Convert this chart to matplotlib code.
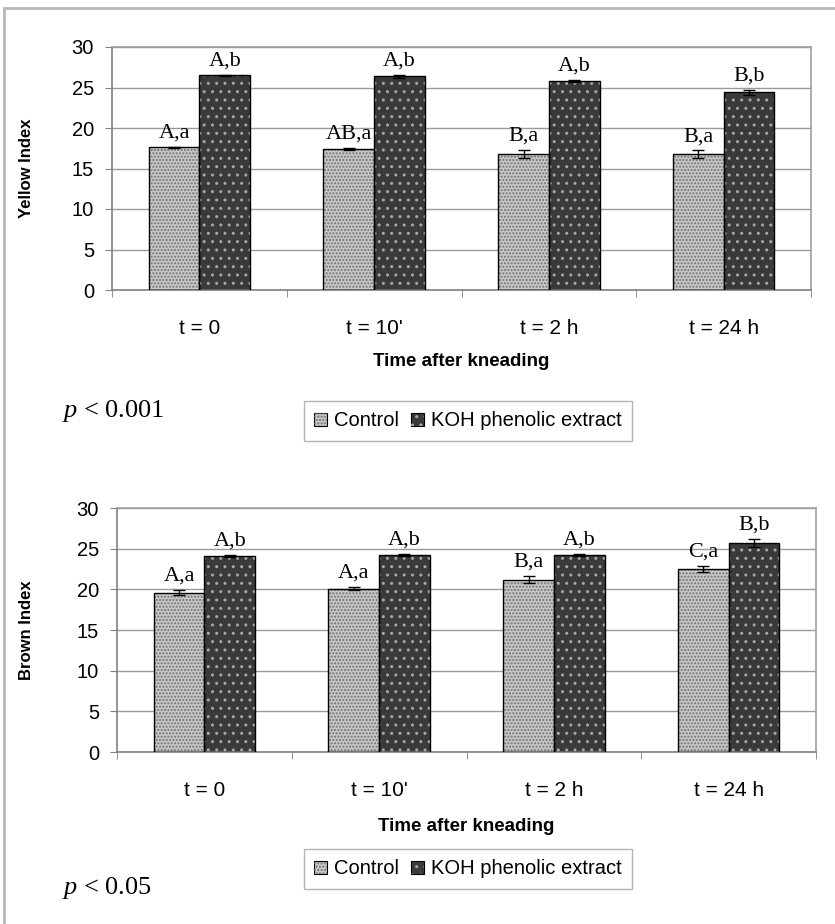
import matplotlib
matplotlib.use("Agg")
import matplotlib.pyplot as plt
import numpy as np
from matplotlib.patches import Patch, Rectangle

# data
times = ["t = 0", "t = 10'", "t = 2 h", "t = 24 h"]
series = ["Control", "KOH phenolic extract"]

yellow_control = [17.6, 17.4, 16.8, 16.8]
yellow_control_err = [0.1, 0.15, 0.5, 0.45]
yellow_koh = [26.5, 26.4, 25.8, 24.4]
yellow_koh_err = [0.1, 0.2, 0.15, 0.35]
yellow_labels_control = ["A,a", "AB,a", "B,a", "B,a"]
yellow_labels_koh = ["A,b", "A,b", "A,b", "B,b"]

brown_control = [19.6, 20.1, 21.2, 22.5]
brown_control_err = [0.3, 0.2, 0.45, 0.35]
brown_koh = [24.1, 24.2, 24.2, 25.7]
brown_koh_err = [0.1, 0.15, 0.15, 0.5]
brown_labels_control = ["A,a", "A,a", "B,a", "C,a"]
brown_labels_koh = ["A,b", "A,b", "A,b", "B,b"]

W, H = 835, 924
SANS = "Liberation Sans"
SERIF = "Liberation Serif"

plt.rcParams["mathtext.fontset"] = "custom"
plt.rcParams["mathtext.rm"] = SERIF
plt.rcParams["mathtext.it"] = SERIF + ":italic"
plt.rcParams["hatch.linewidth"] = 1.0

CTRL_FACE, CTRL_HATCH = "#c8c8c8", "#707070"
KOH_FACE, KOH_HATCH = "#3a3a3a", "#a8a8a8"


def fx(x):
    return x / W


def fy(y):
    return 1 - y / H


def draw_bars(ax, x, vals, face, hatch, hatch_col):
    ax.bar(x, vals, width=0.29, color=face, edgecolor="none", zorder=2)
    ax.bar(x, vals, width=0.29, color="none", edgecolor=hatch_col, hatch=hatch,
           linewidth=0, zorder=3)
    ax.bar(x, vals, width=0.29, fill=False, edgecolor="black", linewidth=1.0, zorder=4)


def panel(fig, rect, ctrl, ctrl_err, koh, koh_err, lab_c, lab_k, xlabelpad):
    ax = fig.add_axes(rect)
    x = np.arange(len(times))
    xc = x - 0.145
    xk = x + 0.145
    draw_bars(ax, xc, ctrl, CTRL_FACE, ".....", CTRL_HATCH)
    draw_bars(ax, xk, koh, KOH_FACE, "..", KOH_HATCH)
    ax.errorbar(xc, ctrl, yerr=ctrl_err, fmt="none", ecolor="black",
                elinewidth=1, capsize=4, capthick=1, zorder=5)
    ax.errorbar(xk, koh, yerr=koh_err, fmt="none", ecolor="black",
                elinewidth=1, capsize=4, capthick=1, zorder=5)
    for xi, v, e, t in zip(xc, ctrl, ctrl_err, lab_c):
        ax.annotate(t, (xi, v + e), xytext=(0, 3), textcoords="offset points",
                    ha="center", va="bottom", fontsize=16, family=SERIF)
    for xi, v, e, t in zip(xk, koh, koh_err, lab_k):
        ax.annotate(t, (xi, v + e), xytext=(0, 3), textcoords="offset points",
                    ha="center", va="bottom", fontsize=16, family=SERIF)

    ax.set_xlim(-0.5, 3.5)
    ax.set_ylim(0, 30)
    ax.set_yticks(range(0, 31, 5))
    ax.set_xticks(x)
    ax.set_xticklabels(times, family=SANS, fontsize=15)
    ax.set_xticks(np.arange(-0.5, 4, 1), minor=True)
    ax.tick_params(axis="x", which="major", length=0, pad=21)
    ax.tick_params(axis="x", which="minor", length=5, color="#808080", direction="out")
    ax.tick_params(axis="y", length=5, color="#808080", pad=8, labelsize=14.5)
    for lab in ax.get_yticklabels():
        lab.set_family(SANS)
    ax.grid(axis="y", color="#9a9a9a", linewidth=1, zorder=0)
    ax.set_axisbelow(True)
    for s in ax.spines.values():
        s.set_color("#a0a0a0")
        s.set_linewidth(1.2)
    ax.spines["left"].set_color("#808080")
    ax.spines["bottom"].set_color("#808080")
    ax.set_xlabel("Time after kneading", family=SANS, fontsize=13.5,
                  fontweight="bold", labelpad=xlabelpad)
    return ax


fig = plt.figure(figsize=(W / 100, H / 100), dpi=100)

# outer frame (only top and left edges show in the reference)
fig.patches.append(Rectangle((fx(4), fy(940)), 1.2, fy(8) - fy(940),
                             transform=fig.transFigure, fill=False,
                             edgecolor="#b8b8b8", linewidth=2))

ax1 = panel(fig, [fx(112), fy(290), fx(811) - fx(112), fy(47) - fy(290)],
            yellow_control, yellow_control_err, yellow_koh, yellow_koh_err,
            yellow_labels_control, yellow_labels_koh, 11)
ax2 = panel(fig, [fx(117), fy(752), fx(816) - fx(117), fy(508) - fy(752)],
            brown_control, brown_control_err, brown_koh, brown_koh_err,
            brown_labels_control, brown_labels_koh, 13)

fig.text(fx(27), fy(168), "Yellow Index", rotation=90, ha="center", va="center",
         family=SANS, fontsize=12, fontweight="bold")
fig.text(fx(27), fy(630), "Brown Index", rotation=90, ha="center", va="center",
         family=SANS, fontsize=12, fontweight="bold")

fig.text(fx(62), fy(411), r"$\mathit{p}$ < 0.001", ha="left", va="center",
         family=SERIF, fontsize=19)
fig.text(fx(62), fy(888), r"$\mathit{p}$ < 0.05", ha="left", va="center",
         family=SERIF, fontsize=19)

handles = [
    (Patch(facecolor=CTRL_FACE, edgecolor="black", linewidth=0.8),
     Patch(facecolor="none", edgecolor=CTRL_HATCH, hatch=".....", linewidth=0)),
    (Patch(facecolor=KOH_FACE, edgecolor="black", linewidth=0.8),
     Patch(facecolor="none", edgecolor=KOH_HATCH, hatch="..", linewidth=0)),
]
for cy in (421, 869):
    leg = fig.legend(handles, series, loc="center", ncol=2,
                     bbox_to_anchor=(fx(468), fy(cy)), frameon=True, fancybox=False,
                     handlelength=0.65, handleheight=0.65, handletextpad=0.35,
                     columnspacing=0.6, borderpad=0.5,
                     prop={"family": SANS, "size": 14.5})
    leg.get_frame().set_edgecolor("#a0a0a0")
    leg.get_frame().set_linewidth(1.0)

fig.savefig("out.png", dpi=100)
